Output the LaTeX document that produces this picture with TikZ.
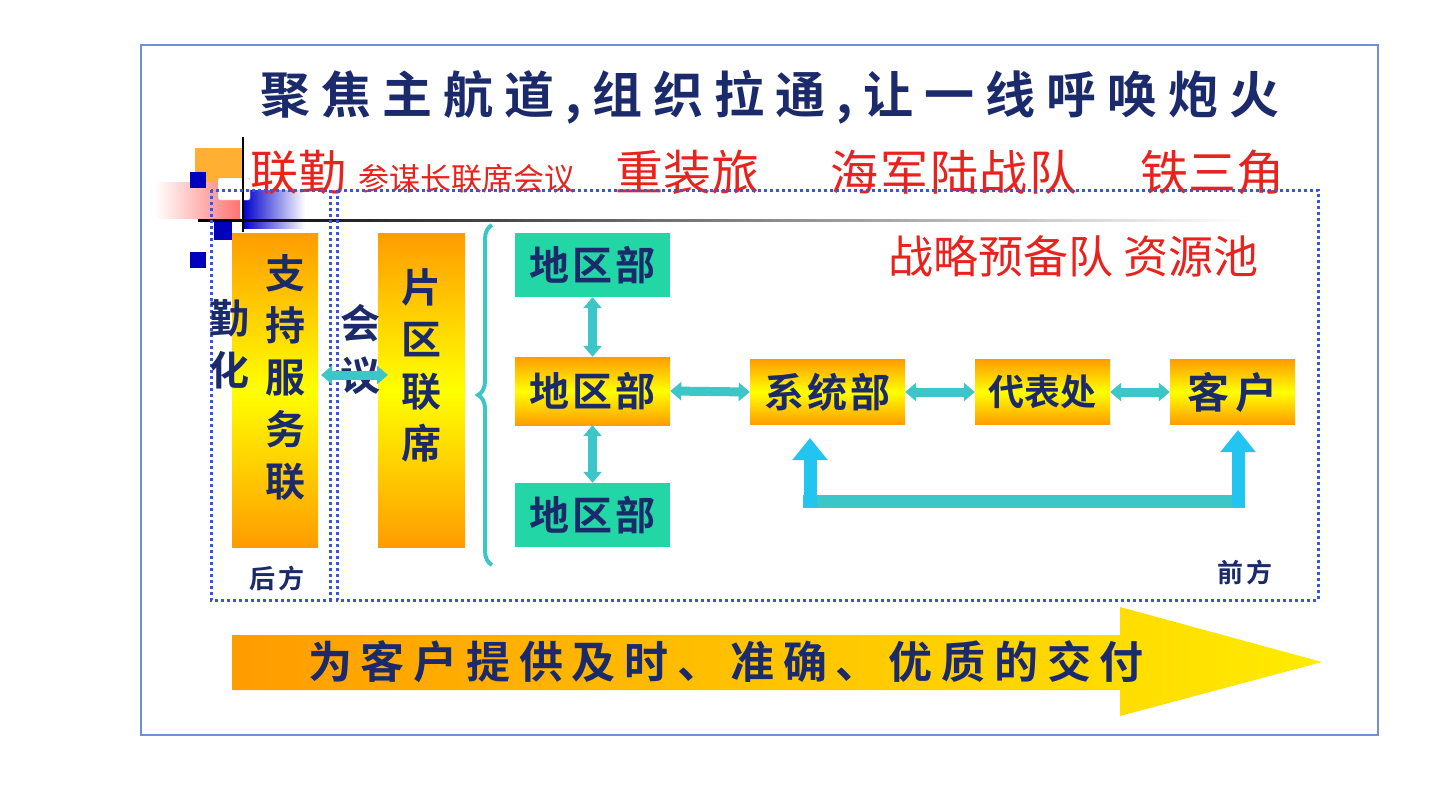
\documentclass[tikz,border=0pt]{standalone}
\usepackage{fontspec}
\newfontfamily\cjk{Noto Sans CJK SC Bold}
\newfontfamily\cjkr{Noto Sans CJK SC}
\usetikzlibrary{arrows.meta,decorations.pathreplacing}
\definecolor{navy}{HTML}{1B2A6B}
\definecolor{frameb}{HTML}{6F8FD8}
\definecolor{dotb}{HTML}{3A55D8}
\definecolor{teal2}{HTML}{22D6A6}
\definecolor{cyan2}{HTML}{3CC6C8}
\definecolor{sky}{HTML}{22C4F0}
\definecolor{org}{HTML}{FF9C00}
\definecolor{redt}{HTML}{E8231E}
\newcommand{\sz}[1]{\fontsize{#1}{#1}\selectfont}
\tikzset{
 gbox/.style={draw=none,top color=org,bottom color=org,middle color=yellow},
 tbox/.style={fill=teal2,draw=none},
 lbl/.style={font=\cjk\sz{40}\addfontfeature{LetterSpace=8},text=navy},
 vlbl/.style={font=\cjk\fontsize{40}{52}\selectfont,text=navy,align=center},
 dbl/.style={cyan2,line width=9pt,{Triangle[width=18pt,length=11pt]}-{Triangle[width=18pt,length=11pt]}},
 dotbox/.style={dotb,line width=3pt,dash pattern=on 3pt off 3pt},
 redl/.style={text=redt,font=\cjkr\sz{48},anchor=base west,inner sep=0}
}
\begin{document}
\begin{tikzpicture}[x=1pt,y=-1pt]
\useasboundingbox (0,0) rectangle (1447,784);
\fill[white] (0,0) rectangle (1447,784);
\draw[frameb,line width=1.2pt] (141,45) rectangle (1378,735);
% title
\node[font=\cjk\sz{50}\addfontfeature{LetterSpace=22},text=navy] (title) at (770,97) {聚焦主航道,组织拉通,让一线呼唤炮火};
% decoration
\fill[org!80] (195,148) rectangle (243,190);
\shade[left color=white,right color=red!55] (155,182) rectangle (240,218);
\shade[left color=blue!80!black,right color=white] (243,190) rectangle (305,228);
\fill[blue!75!black] (190,172) rectangle (206,188);
\fill[blue!75!black] (190,252) rectangle (206,268);
\fill[blue!75!black] (214,222) rectangle (232,240);
\fill[white,draw=gray!50,rounded corners=2pt] (218,178) rectangle (250,200);
\draw[black,line width=1.5pt] (243,137) -- (243,232);
\shade[left color=black,right color=white] (198,219) rectangle (1250,221.5);
% red line
\node[redl] (lq) at (250,190) {联勤};
\node[redl,font=\cjkr\sz{31}] (cm) at (358,190) {参谋长联席会议};
\node[redl] (zz) at (615,190) {重装旅};
\node[redl,font=\cjkr\sz{48}\addfontfeature{LetterSpace=4}] (hj) at (830,190) {海军陆战队};
\node[redl] (ts) at (1140,190) {铁三角};
\node[redl,font=\cjkr\sz{45}] (zl) at (888,273) {战略预备队 资源池};
% dotted boxes
\draw[dotbox] (211,190) rectangle (330,600);
\draw[dotbox] (337,190) rectangle (1318,600);
% left columns
\fill[gbox] (232,233) rectangle (318,547);
\node[vlbl] (zc) at (285,378) {支\\持\\服\\务\\联};
\node[vlbl] (qh) at (229,344) {勤\\化};
\node[font=\cjk\sz{26}\addfontfeature{LetterSpace=10},text=navy] (hf) at (277,578) {后方};
\fill[gbox] (378,233) rectangle (465,547);
\node[vlbl] (pq) at (421,365) {片\\区\\联\\席};
\node[vlbl] (hy) at (360,349) {会\\议};
\draw[dbl] (321,375) -- (388,375);
% brace
\draw[cyan2,line width=4pt,decorate,decoration={brace,amplitude=14pt}] (492,565) -- (492,225);
% regions
\node[tbox,minimum width=155pt,minimum height=64pt] (d1) at (592.5,265) {};
\node[lbl] at (d1) {地区部};
\node[gbox,minimum width=155pt,minimum height=68pt] (d2) at (592.5,391) {};
\node[lbl] at (d2) {地区部};
\node[tbox,minimum width=155pt,minimum height=64pt] (d3) at (592.5,515) {};
\node[lbl] at (d3) {地区部};
\draw[dbl] (d1.south) -- (d2.north);
\draw[dbl] (d2.south) -- (d3.north);
\node[gbox,minimum width=155pt,minimum height=65pt] (xt) at (827.5,392) {};
\node[lbl] at (xt) {系统部};
\node[gbox,minimum width=135pt,minimum height=65pt] (db) at (1042.5,392) {};
\node[lbl,font=\cjk\sz{36}] at (db) {代表处};
\node[gbox,minimum width=125pt,minimum height=65pt] (kh) at (1232.5,392) {};
\node[lbl,font=\cjk\sz{42}\addfontfeature{LetterSpace=14}] at (kh) {客户};
\draw[dbl] (d2.east) -- (xt.west);
\draw[dbl] (xt.east) -- (db.west);
\draw[dbl] (db.east) -- (kh.west);
% feedback
\draw[cyan2,line width=13pt] (803,501) -- (1245,501);
\draw[sky,line width=13pt,-{Triangle[width=34pt,length=22pt]}] (810,507) -- (810,438);
\draw[sky,line width=13pt,-{Triangle[width=34pt,length=22pt]}] (1238,507) -- (1238,430);
\node[font=\cjk\sz{26}\addfontfeature{LetterSpace=10},text=navy] (qf) at (1245,572) {前方};
% bottom arrow
\shade[left color=org,right color=yellow!80!org] (232,635) -- (1120,635) -- (1120,607) -- (1322,662) -- (1120,716) -- (1120,690) -- (232,690) -- cycle;
\node[font=\cjk\sz{44}\addfontfeature{LetterSpace=20},text=navy] (bt) at (726,662) {为客户提供及时、准确、优质的交付};
\end{tikzpicture}
\end{document}
